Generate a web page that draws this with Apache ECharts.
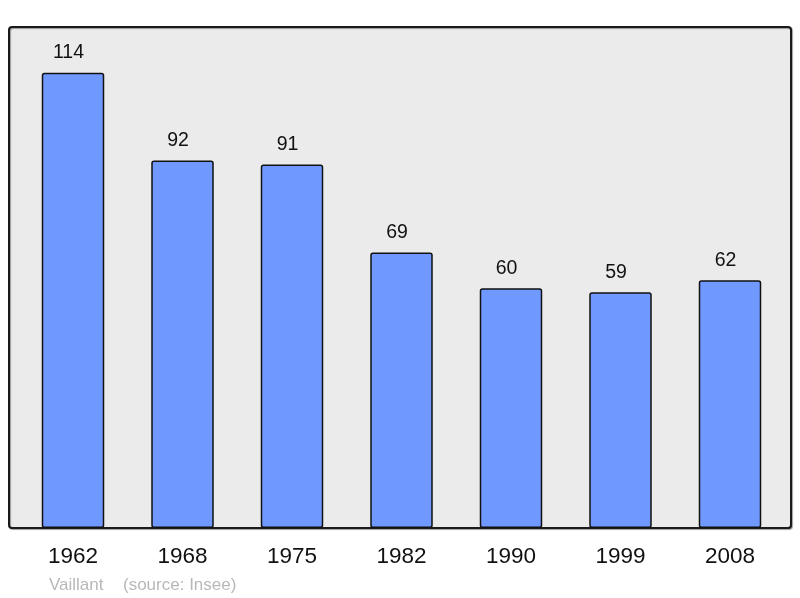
<!DOCTYPE html>
<html><head><meta charset="utf-8">
<script src="https://cdn.jsdelivr.net/npm/echarts@6/dist/echarts.min.js"></script>
<style>html,body{margin:0;padding:0;background:#fff}#c{width:800px;height:598px}</style>
</head><body><div id="c"></div>
<script>
const categories = ['1962','1968','1975','1982','1990','1999','2008'];
const population = [114, 92, 91, 69, 60, 59, 62];
const footerAuthor = 'Vaillant';
const footerSource = '(source: Insee)';

const FONT = '"Liberation Sans", Arial, sans-serif';
const chart = echarts.init(document.getElementById('c'), null, {renderer:'canvas'});
chart.setOption({
  animation:false,
  backgroundColor:'#ffffff',
  graphic:[
    {type:'rect', z:-10, shape:{x:9,y:27,width:782,height:501,r:3},
     style:{fill:'#ebebeb', stroke:'#1a1a1a', lineWidth:2,
       shadowColor:'rgba(0,0,0,0.35)', shadowOffsetX:1, shadowOffsetY:1, shadowBlur:1}},
    {type:'text', left:49, top:577,
     style:{text:footerAuthor, fill:'#b8b8b8', font:'17px ' + FONT}},
    {type:'text', left:123, top:577,
     style:{text:footerSource, fill:'#b8b8b8', font:'17px ' + FONT}}
  ],
  grid:{left:18.25, right:15.25, top:28.75, bottom:70, containLabel:false},
  xAxis:{type:'category', data:categories,
    axisLine:{show:false}, axisTick:{show:false},
    axisLabel:{color:'#111', fontSize:22.5, fontFamily:FONT, margin:17}},
  yAxis:{type:'value', min:0, max:125, show:false, splitLine:{show:false}},
  series:[{
    type:'bar', data:population, barWidth:62.5,
    itemStyle:{color:'#7099ff', borderColor:'#111', borderWidth:1.5, borderRadius:2},
    label:{show:true, position:'top', distance:10, offset:[-4.5,0], color:'#111', fontSize:19.5, fontFamily:FONT}
  }]
});
</script></body></html>
